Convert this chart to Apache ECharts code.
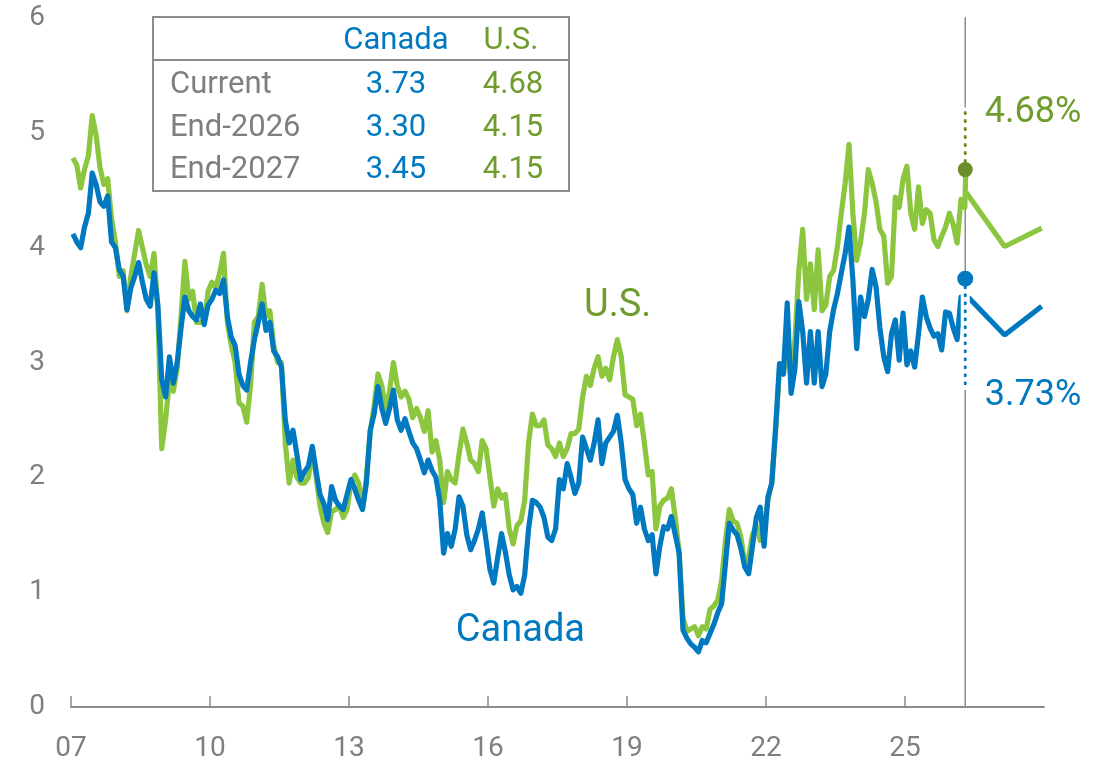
<!DOCTYPE html>
<html>
<head>
<meta charset="utf-8">
<script src="https://cdn.jsdelivr.net/npm/echarts@6/dist/echarts.min.js"></script>
<style>
html,body{margin:0;padding:0;background:#fff;}
#chart{width:1109px;height:769px;}
</style>
</head>
<body>
<div id="chart"></div>
<script>
// ---- Data (10-year government bond yields, %) ----
var startYear = 2007; // monthly readings from Jan 2007
var usYield = [
  4.78,4.72,4.52,4.68,4.80,5.15,4.98,4.70,4.55,4.60,4.25,4.05,
  3.75,3.80,3.45,3.75,3.95,4.15,4.00,3.85,3.75,3.95,3.45,2.25,
  2.50,2.85,2.75,2.95,3.40,3.88,3.55,3.62,3.35,3.35,3.35,3.62,
  3.70,3.65,3.78,3.95,3.35,3.15,3.00,2.65,2.62,2.48,2.80,3.35,
  3.40,3.68,3.40,3.45,3.15,3.00,3.00,2.30,1.95,2.15,2.00,1.95,
  1.95,2.00,2.25,2.00,1.75,1.60,1.52,1.70,1.72,1.75,1.65,1.72,
  1.95,2.02,1.95,1.72,2.00,2.40,2.62,2.90,2.80,2.58,2.75,3.00,
  2.80,2.70,2.75,2.68,2.52,2.60,2.52,2.40,2.58,2.22,2.32,2.15,
  1.78,2.05,1.98,1.95,2.20,2.42,2.30,2.15,2.12,2.05,2.32,2.25,
  2.00,1.75,1.90,1.82,1.85,1.55,1.42,1.58,1.62,1.80,2.30,2.55,
  2.45,2.45,2.50,2.28,2.25,2.18,2.30,2.18,2.25,2.38,2.38,2.42,
  2.70,2.88,2.80,2.95,3.05,2.88,2.95,2.85,3.05,3.20,3.05,2.72,
  2.70,2.68,2.45,2.55,2.30,2.02,2.05,1.55,1.75,1.80,1.82,1.90,
  1.65,1.35,0.78,0.66,0.68,0.70,0.62,0.70,0.68,0.85,0.88,0.93,
  1.10,1.45,1.72,1.62,1.60,1.48,1.25,1.30,1.50,1.58,1.45,1.55,
  1.80,1.95,2.40,2.95,2.90,3.15,2.85,3.20,3.80,4.16,3.55,3.86,
  3.46,3.98,3.45,3.50,3.75,3.80,4.01,4.30,4.56,4.90,4.30,3.89,
  4.05,4.30,4.68,4.56,4.40,4.16,4.10,3.69,3.75,4.44,4.35,4.60,
  4.71,4.30,4.16,4.53,4.21,4.33,4.30,4.07,4.01,4.10,4.18,4.30,
  4.20,4.04,4.42,4.35
];
var canadaYield = [
  4.12,4.05,4.00,4.18,4.30,4.65,4.55,4.40,4.36,4.45,4.05,4.00,
  3.81,3.75,3.46,3.65,3.75,3.87,3.70,3.55,3.49,3.78,3.50,2.85,
  2.70,3.05,2.82,3.00,3.30,3.57,3.45,3.40,3.37,3.51,3.33,3.50,
  3.55,3.63,3.60,3.72,3.40,3.22,3.15,2.90,2.80,2.76,3.00,3.20,
  3.35,3.51,3.28,3.35,3.10,3.05,2.96,2.50,2.30,2.41,2.20,1.98,
  2.05,2.10,2.27,2.05,1.85,1.77,1.63,1.92,1.80,1.75,1.72,1.85,
  1.98,1.90,1.80,1.72,1.95,2.41,2.55,2.79,2.60,2.47,2.60,2.76,
  2.50,2.41,2.51,2.40,2.30,2.25,2.15,2.04,2.15,2.06,2.00,1.80,
  1.34,1.51,1.40,1.55,1.83,1.75,1.50,1.37,1.45,1.55,1.69,1.45,
  1.20,1.08,1.30,1.51,1.35,1.15,1.02,1.05,0.99,1.15,1.55,1.80,
  1.78,1.74,1.65,1.48,1.45,1.55,1.98,1.90,2.12,2.00,1.86,1.95,
  2.35,2.25,2.15,2.30,2.50,2.12,2.30,2.35,2.40,2.54,2.30,1.98,
  1.90,1.85,1.60,1.74,1.55,1.45,1.50,1.16,1.40,1.57,1.55,1.66,
  1.50,1.34,0.67,0.60,0.55,0.52,0.48,0.58,0.56,0.64,0.72,0.82,
  0.90,1.25,1.60,1.54,1.50,1.38,1.22,1.16,1.40,1.65,1.74,1.40,
  1.83,1.95,2.44,2.99,2.90,3.52,2.73,2.95,3.53,3.27,2.82,3.27,
  2.82,3.27,2.79,2.90,3.27,3.46,3.60,3.78,3.95,4.18,3.72,3.12,
  3.57,3.40,3.55,3.81,3.66,3.30,3.05,2.92,3.25,3.37,3.02,3.43,
  2.98,3.10,2.96,3.25,3.57,3.40,3.30,3.23,3.25,3.11,3.44,3.43,
  3.30,3.20,3.57,3.45
];
// latest readings (spot) and forecast path
var currentDate = 2026.30;
var usCurrent = 4.68;
var canadaCurrent = 3.73;
var usLastHist = [2026.31, 4.66];
var canadaLastHist = [2026.27, 3.57];
var forecastDates = [2026.32, 2027.15, 2027.95];
var usForecast = [4.48, 4.01, 4.17];
var canadaForecast = [3.57, 3.24, 3.49];
// table
var tableRows = ['Current', 'End-2026', 'End-2027'];
var tableCanada = ['3.73', '3.30', '3.45'];
var tableUS = ['4.68', '4.15', '4.15'];
var xTickYears = [2007, 2010, 2013, 2016, 2019, 2022, 2025];

// ---- Build ----
var BLUE = '#0079c1', GREEN = '#8cc63f', GREEN_TXT = '#6f9c2c', GREEN_DOT = '#6b8e2a', GRAY = '#8c8c8c', GRAY_TXT = '#7f7f7f';
var FONT = 'Roboto';
var LW = 5.2;

function monthly(vals) {
  return vals.map(function (v, i) { return [startYear + (i + 0.5) / 12, v]; });
}
var usData = monthly(usYield).concat([usLastHist]);
var caData = monthly(canadaYield).concat([canadaLastHist]);
var usFc = forecastDates.map(function (d, i) { return [d, usForecast[i]]; });
var caFc = forecastDates.map(function (d, i) { return [i === 0 ? d + 0.04 : d, canadaForecast[i]]; });

var chart = echarts.init(document.getElementById('chart'), null, { renderer: 'canvas' });

var graphics = [];
var tx = { left: 153, top: 17, width: 416, height: 174 };
graphics.push({ type: 'rect', shape: { x: tx.left, y: tx.top, width: tx.width, height: tx.height },
  style: { fill: 'none', stroke: GRAY, lineWidth: 2 }, z: 100 });
graphics.push({ type: 'line', shape: { x1: tx.left, y1: 60, x2: tx.left + tx.width, y2: 60 },
  style: { stroke: GRAY, lineWidth: 2 }, z: 100 });
graphics.push({ type: 'text', x: 396, y: 41, style: { text: 'Canada', fill: BLUE, font: '31px ' + FONT, textAlign: 'center', textVerticalAlign: 'middle' }, z: 100 });
graphics.push({ type: 'text', x: 511, y: 41, style: { text: 'U.S.', fill: GREEN_TXT, font: '31px ' + FONT, textAlign: 'center', textVerticalAlign: 'middle' }, z: 100 });
var rowY = [85, 128, 170];
tableRows.forEach(function (r, i) {
  graphics.push({ type: 'text', x: 170, y: rowY[i], style: { text: r, fill: GRAY_TXT, font: '31px ' + FONT, textAlign: 'left', textVerticalAlign: 'middle' }, z: 100 });
  graphics.push({ type: 'text', x: 396, y: rowY[i], style: { text: tableCanada[i], fill: BLUE, font: '31px ' + FONT, textAlign: 'center', textVerticalAlign: 'middle' }, z: 100 });
  graphics.push({ type: 'text', x: 513, y: rowY[i], style: { text: tableUS[i], fill: GREEN_TXT, font: '31px ' + FONT, textAlign: 'center', textVerticalAlign: 'middle' }, z: 100 });
});

function lbl(text, color, size, pos, dist) {
  return { show: true, position: pos, distance: dist || 0, formatter: text, color: color, opacity: 1,
    fontSize: size, fontFamily: FONT };
}

var option = {
  animation: false,
  backgroundColor: '#ffffff',
  grid: { left: 71, right: 65, top: 18, bottom: 62, containLabel: false, outerBoundsMode: 'none' },
  xAxis: {
    type: 'value', min: 2007, max: 2028,
    axisLine: { show: true, lineStyle: { color: GRAY, width: 2 } },
    axisTick: { show: true, inside: true, length: 11, customValues: xTickYears, lineStyle: { color: GRAY, width: 1.5 } },
    axisLabel: { customValues: xTickYears, formatter: function (v) { return String(Math.round(v)).slice(2); },
      color: GRAY_TXT, fontSize: 28, fontFamily: FONT, margin: 28 },
    splitLine: { show: false }
  },
  yAxis: {
    type: 'value', min: 0, max: 6, interval: 1,
    axisLine: { show: false }, axisTick: { show: false }, splitLine: { show: false },
    axisLabel: { color: GRAY_TXT, fontSize: 28, fontFamily: FONT, margin: 26 }
  },
  graphic: graphics,
  series: [
    { type: 'line', name: 'vline', data: [[currentDate, 0], [currentDate, 6.03]], symbol: 'none', silent: true,
      lineStyle: { color: GRAY, width: 1.5 }, z: 1 },
    { type: 'line', name: 'U.S.', data: usData, symbol: 'none', lineStyle: { color: GREEN, width: LW, join: 'round' }, z: 3 },
    { type: 'line', name: 'Canada', data: caData, symbol: 'none', lineStyle: { color: BLUE, width: LW, join: 'round' }, z: 4 },
    { type: 'line', name: 'U.S. forecast', data: usFc, symbol: 'none', lineStyle: { color: GREEN, width: LW }, z: 3 },
    { type: 'line', name: 'Canada forecast', data: caFc, symbol: 'none', lineStyle: { color: BLUE, width: LW }, z: 4 },
    { type: 'line', name: 'maskUS', data: [[currentDate, usCurrent], [currentDate, 5.22]], symbol: 'none', silent: true,
      lineStyle: { color: '#ffffff', width: 9 }, z: 6 },
    { type: 'line', name: 'maskCA', data: [[currentDate, canadaCurrent], [currentDate, 2.76]], symbol: 'none', silent: true,
      lineStyle: { color: '#ffffff', width: 9 }, z: 6 },
    { type: 'line', name: 'dotUS', data: [[currentDate, usCurrent], [currentDate, 5.22]], symbol: 'none', silent: true,
      lineStyle: { color: GREEN_DOT, width: 3, type: [1, 7], cap: 'round' }, z: 7 },
    { type: 'line', name: 'dotCA', data: [[currentDate, canadaCurrent], [currentDate, 2.76]], symbol: 'none', silent: true,
      lineStyle: { color: BLUE, width: 3, type: [1, 7], cap: 'round' }, z: 7 },
    { type: 'scatter', name: 'currentUS', data: [[currentDate, usCurrent]], symbolSize: 15, itemStyle: { color: GREEN_DOT, opacity: 1 }, z: 8 },
    { type: 'scatter', name: 'currentCA', data: [[currentDate, canadaCurrent]], symbolSize: 16, itemStyle: { color: BLUE, opacity: 1 }, z: 8 },
    { type: 'scatter', name: 'labels', symbolSize: 1, silent: true, z: 9, itemStyle: { opacity: 0 },
      data: [
        { value: [currentDate, 5.17], label: lbl(usCurrent.toFixed(2) + '%', GREEN_TXT, 36, 'right', 19) },
        { value: [currentDate, 2.71], label: lbl(canadaCurrent.toFixed(2) + '%', BLUE, 36, 'right', 19) },
        { value: [2018.80, 3.49], label: lbl('U.S.', GREEN_TXT, 38, 'inside') },
        { value: [2016.70, 0.66], label: lbl('Canada', BLUE, 38, 'inside') }
      ] }
  ]
};
chart.setOption(option);
</script>
</body>
</html>
